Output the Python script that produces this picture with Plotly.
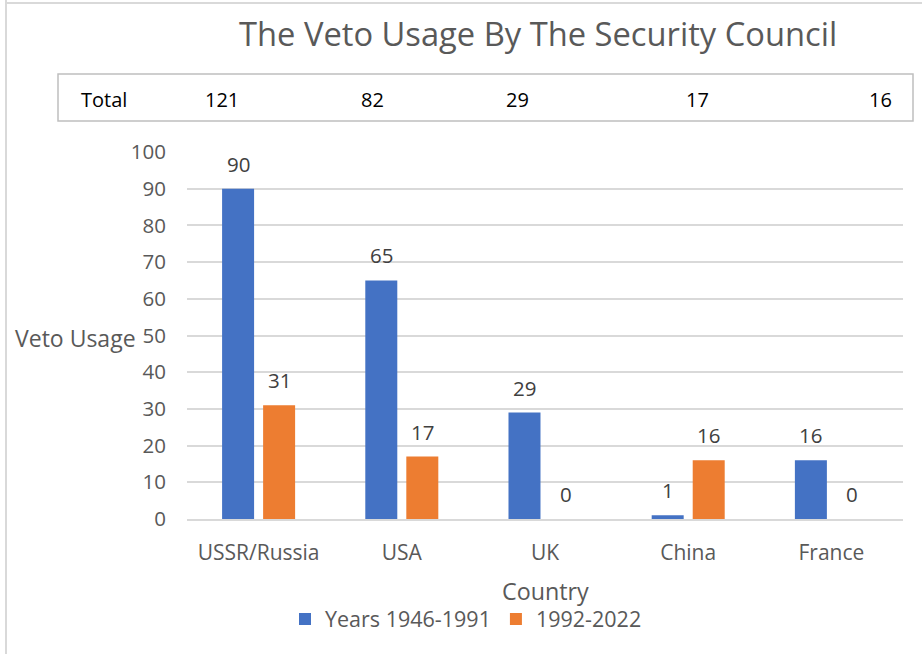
import plotly.graph_objects as go

# ---- data ----
countries = ["USSR/Russia", "USA", "UK", "China", "France"]
series_names = ["Years 1946-1991", "1992-2022"]
years_1946_1991 = [90, 65, 29, 1, 16]
years_1992_2022 = [31, 17, 0, 16, 0]
totals = [a + b for a, b in zip(years_1946_1991, years_1992_2022)]
y_ticks = [0, 10, 20, 30, 40, 50, 60, 70, 80, 90, 100]

# ---- layout helpers (pixel -> paper) ----
W, H = 922, 654
ML, MR, MT, MB = 187, 19, 152, 135
PW, PH = W - ML - MR, H - MT - MB


def px(x):
    return (x - ML) / PW


def py(y):
    return (H - MB - y) / PH


FONT = "Open Sans"
BLUE = "#4472C4"
ORANGE = "#ED7D31"
GRID = "#D9D9D9"
BARGAP = 0.427
BARGROUPGAP = 0.22
SLOT = (1 - BARGAP) / 2  # width of one series slot in category units

fig = go.Figure()
annotations = []
for k, (name, vals, col) in enumerate([(series_names[0], years_1946_1991, BLUE),
                                       (series_names[1], years_1992_2022, ORANGE)]):
    fig.add_trace(go.Bar(
        x=countries, y=vals, name=name, marker=dict(color=col, line=dict(width=0)),
    ))
    off = (k - 0.5) * SLOT
    for i, v in enumerate(vals):
        annotations.append(dict(
            text=str(v), x=i + off, y=v, xref="x", yref="y", showarrow=False,
            xanchor="center", yanchor="middle", yshift=25,
            font=dict(family=FONT, size=20.5, color="#404040")))

annotations += [
    dict(text="The Veto Usage By The Security Council", x=px(538), y=py(33),
         xref="paper", yref="paper", showarrow=False, xanchor="center", yanchor="middle",
         font=dict(family=FONT, size=32.7, color="#595959")),
    dict(text="Veto Usage", x=px(75), y=py(338), xref="paper", yref="paper",
         showarrow=False, xanchor="center", yanchor="middle",
         font=dict(family=FONT, size=23, color="#595959")),
    dict(text="Country", x=px(545), y=py(591), xref="paper", yref="paper",
         showarrow=False, xanchor="center", yanchor="middle",
         font=dict(family=FONT, size=23.3, color="#595959")),
]

total_x = [222, 372, 517, 697, 880]
annotations.append(dict(text="Total", x=px(104), y=py(100), xref="paper", yref="paper",
                        showarrow=False, xanchor="center", yanchor="middle",
                        font=dict(family=FONT, size=20, color="#000000")))
for t, xx in zip(totals, total_x):
    annotations.append(dict(text=str(t), x=px(xx), y=py(100), xref="paper", yref="paper",
                            showarrow=False, xanchor="center", yanchor="middle",
                            font=dict(family=FONT, size=20, color="#000000")))

shapes = [
    dict(type="rect", xref="paper", yref="paper", x0=px(58), x1=px(913), y0=py(121), y1=py(74),
         line=dict(color="#BFBFBF", width=1.5), fillcolor="rgba(0,0,0,0)"),
    dict(type="line", xref="paper", yref="paper", x0=px(6), x1=px(6), y0=py(0), y1=py(654),
         line=dict(color=GRID, width=2)),
    dict(type="line", xref="paper", yref="paper", x0=px(5), x1=px(922), y0=py(3), y1=py(3),
         line=dict(color=GRID, width=2)),
]

fig.update_layout(
    width=W, height=H,
    margin=dict(l=ML, r=MR, t=MT, b=MB, pad=0),
    paper_bgcolor="white", plot_bgcolor="white",
    barmode="group", bargap=BARGAP, bargroupgap=BARGROUPGAP,
    font=dict(family=FONT, color="#595959"),
    annotations=annotations, shapes=shapes,
    showlegend=True,
    legend=dict(orientation="h", x=px(466), y=py(619), xanchor="center", yanchor="middle",
                font=dict(family=FONT, size=21.5, color="#595959"), itemwidth=30,
                bgcolor="rgba(0,0,0,0)"),
)
fig.update_xaxes(showgrid=False, showline=True, linecolor=GRID, linewidth=1.5,
                 ticks="", ticklabelstandoff=14,
                 tickfont=dict(family=FONT, size=21, color="#595959"))
fig.update_yaxes(range=[0, 100], tickvals=y_ticks, showgrid=True, gridcolor=GRID, gridwidth=1.5,
                 zeroline=False, showline=False, ticks="", ticklabelstandoff=20,
                 tickfont=dict(family=FONT, size=20.5, color="#595959"))

fig.write_html("out.html")
